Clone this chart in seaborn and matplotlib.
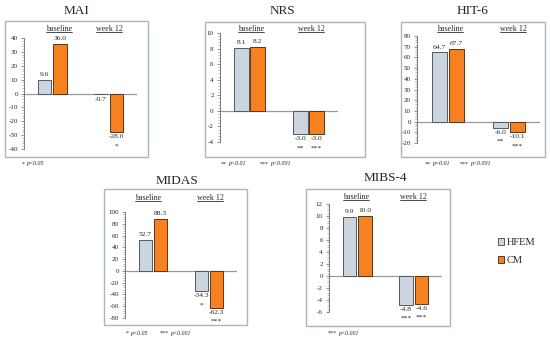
import matplotlib
matplotlib.use("Agg")
import matplotlib.pyplot as plt
import seaborn as sns
import pandas as pd
import numpy as np
from matplotlib.patches import Rectangle, Patch
from matplotlib.ticker import MultipleLocator, AutoMinorLocator

# ---------------- data ----------------
periods = ["baseline", "week 12"]
groups = ["HFEM", "CM"]

mai_hfem = [9.6, -0.7]
mai_cm = [36.0, -28.0]
nrs_hfem = [8.1, -3.0]
nrs_cm = [8.2, -3.0]
hit6_hfem = [64.7, -6.0]
hit6_cm = [67.7, -10.1]
midas_hfem = [52.7, -34.3]
midas_cm = [88.3, -62.3]
mibs_hfem = [9.9, -4.8]
mibs_cm = [10.0, -4.6]

mai_stars_hfem = ["", ""]
mai_stars_cm = ["", "*"]
nrs_stars_hfem = ["", "**"]
nrs_stars_cm = ["", "***"]
hit6_stars_hfem = ["", "**"]
hit6_stars_cm = ["", "***"]
midas_stars_hfem = ["", "*"]
midas_stars_cm = ["", "***"]
mibs_stars_hfem = ["", "***"]
mibs_stars_cm = ["", "***"]

titles = ["MAI", "NRS", "HIT-6", "MIDAS", "MIBS-4"]
footnotes = [
    ["* p<0.05"],
    ["** p<0.01", "*** p<0.001"],
    ["** p=0.01", "*** p<0.001"],
    ["* p<0.05", "*** p<0.001"],
    ["*** p<0.001"],
]

colors = {"HFEM": "#ccd5df", "CM": "#f7811f"}
edge = {"HFEM": "#505a64", "CM": "#5a3415"}

# ---------------- style ----------------
sns.set_style("white")
plt.rcParams["font.family"] = ["Liberation Serif", "DejaVu Serif"]
plt.rcParams["axes.unicode_minus"] = False

W, H = 550, 341
fig = plt.figure(figsize=(5.5, 3.41), dpi=100)
fig.patch.set_facecolor("white")


def fx(x):
    return x / W


def fy(y):
    return 1 - y / H


panels = [
    dict(title="MAI", h=mai_hfem, c=mai_cm, sh=mai_stars_hfem, sc=mai_stars_cm,
         box=(5, 21, 148, 157), ax=(24, 137, 38, 149), ylim=(-40, 40), major=10,
         txy=(77, 11), hy=29, hx=(59, 109),
         foot=[(22, 164)]),
    dict(title="NRS", h=nrs_hfem, c=nrs_cm, sh=nrs_stars_hfem, sc=nrs_stars_cm,
         box=(205, 22, 365, 157), ax=(220, 338, 33, 142), ylim=(-4, 10), major=2,
         txy=(282, 11), hy=29, hx=(251, 311),
         foot=[(221, 164), (260, 164)]),
    dict(title="HIT-6", h=hit6_hfem, c=hit6_cm, sh=hit6_stars_hfem, sc=hit6_stars_cm,
         box=(401, 22, 545, 157), ax=(417, 540, 36, 143), ylim=(-20, 80), major=10,
         txy=(473, 11), hy=29, hx=(450, 513),
         foot=[(425, 164), (460, 164)]),
    dict(title="MIDAS", h=midas_hfem, c=midas_cm, sh=midas_stars_hfem, sc=midas_stars_cm,
         box=(104, 189, 247, 325), ax=(125, 237, 212, 318), ylim=(-80, 100), major=20,
         txy=(177, 181), hy=198, hx=(148, 210),
         foot=[(126, 333), (160, 333)]),
    dict(title="MIBS-4", h=mibs_hfem, c=mibs_cm, sh=mibs_stars_hfem, sc=mibs_stars_cm,
         box=(306, 189, 450, 326), ax=(329, 442, 204, 312), ylim=(-6, 12), major=2,
         txy=(385, 178), hy=197, hx=(356, 413),
         foot=[(328, 333)]),
]

headers = []
foot_parts = []
for i, p in enumerate(panels):
    # outer frame
    bx0, by0, bx1, by1 = p["box"]
    fig.patches.append(Rectangle((fx(bx0), fy(by1)), fx(bx1 - bx0), (by1 - by0) / H,
                                 transform=fig.transFigure, fill=False,
                                 edgecolor="#a8b6c4", linewidth=1.0))
    # title
    fig.text(fx(p["txy"][0]), fy(p["txy"][1]), p["title"], ha="center", va="center",
             fontsize=9.5)
    # footnotes (star part now, italic part placed after measuring)
    for (x, y), t in zip(p["foot"], footnotes[i]):
        stars, rest = t.split(" ")
        st = fig.text(fx(x), fy(y), stars, ha="left", va="center", fontsize=4.3)
        foot_parts.append((st, rest, fy(y)))

    l, r, t, b = p["ax"]
    ax = fig.add_axes([fx(l), fy(b), fx(r - l), (b - t) / H])
    df = pd.DataFrame({
        "period": periods * 2,
        "group": [groups[0]] * 2 + [groups[1]] * 2,
        "value": list(p["h"]) + list(p["c"]),
    })
    sns.barplot(data=df, x="period", y="value", hue="group", hue_order=groups,
                order=periods, palette=colors, saturation=1, width=0.55, gap=0.12,
                linewidth=0.7, edgecolor="#555555", legend=False, ax=ax)
    for cont, g in zip(ax.containers, groups):
        for bar in cont:
            bar.set_edgecolor(edge[g])
    ax.set_ylim(*p["ylim"])
    ax.set_xlim(-0.5, 1.5)
    ax.set_xlabel("")
    ax.set_ylabel("")
    ax.set_xticks([])
    ax.set_facecolor("none")
    for s in ["top", "right", "bottom"]:
        ax.spines[s].set_visible(False)
    ax.spines["left"].set_color("#666666")
    ax.spines["left"].set_linewidth(0.6)
    ax.axhline(0, color="#9a9a9a", linewidth=0.9, zorder=0)
    ax.yaxis.set_major_locator(MultipleLocator(p["major"]))
    ax.yaxis.set_minor_locator(AutoMinorLocator(5))
    ax.tick_params(axis="y", which="major", length=2.5, width=0.5, color="#666666",
                   labelsize=5, pad=2, left=True)
    ax.tick_params(axis="y", which="minor", length=1.5, width=0.4, color="#888888", left=True)
    ax.grid(False)

    # value and star labels
    stars_all = [p["sh"], p["sc"]]
    for cont, stars in zip(ax.containers, stars_all):
        for bar, v, s in zip(cont, cont.datavalues, stars):
            xc = bar.get_x() + bar.get_width() / 2
            if v >= 0:
                ax.annotate(f"{v:.1f}", (xc, v), xytext=(0, 2), textcoords="offset points",
                            ha="center", va="bottom", fontsize=5.4, annotation_clip=False)
            else:
                ax.annotate(f"{v:.1f}", (xc, v), xytext=(0, -1.5), textcoords="offset points",
                            ha="center", va="top", fontsize=5.4, annotation_clip=False)
                if s:
                    ax.annotate(s, (xc, v), xytext=(0, -8), textcoords="offset points",
                                ha="center", va="top", fontsize=5.4, annotation_clip=False)

    # group headers
    for hx, lab in zip(p["hx"], periods):
        txt = fig.text(fx(hx), fy(p["hy"]), lab, ha="center", va="center", fontsize=5.8)
        headers.append(txt)

# underline headers, and place italic parts of footnotes
fig.canvas.draw()
rend = fig.canvas.get_renderer()
for txt in headers:
    bb = txt.get_window_extent(renderer=rend)
    x0, x1 = bb.x0 / fig.bbox.width, bb.x1 / fig.bbox.width
    yb = (bb.y0 + 0.8) / fig.bbox.height
    fig.add_artist(plt.Line2D([x0, x1], [yb, yb], transform=fig.transFigure,
                              color="black", linewidth=0.5))
for st, rest, yy in foot_parts:
    bb = st.get_window_extent(renderer=rend)
    fig.text((bb.x1 + 1.5) / fig.bbox.width, yy, rest, ha="left", va="center",
             fontsize=4.3, style="italic")

# legend
handles = [Patch(facecolor=colors[g], edgecolor=edge[g], linewidth=0.7, label=g) for g in groups]
fig.legend(handles=handles, loc="upper left", bbox_to_anchor=(fx(498), fy(238)),
           frameon=False, fontsize=7.5, handlelength=0.6, handleheight=0.6,
           handletextpad=0.2, labelspacing=0.9, borderaxespad=0, borderpad=0)

fig.savefig("out.png", dpi=100, facecolor="white")
